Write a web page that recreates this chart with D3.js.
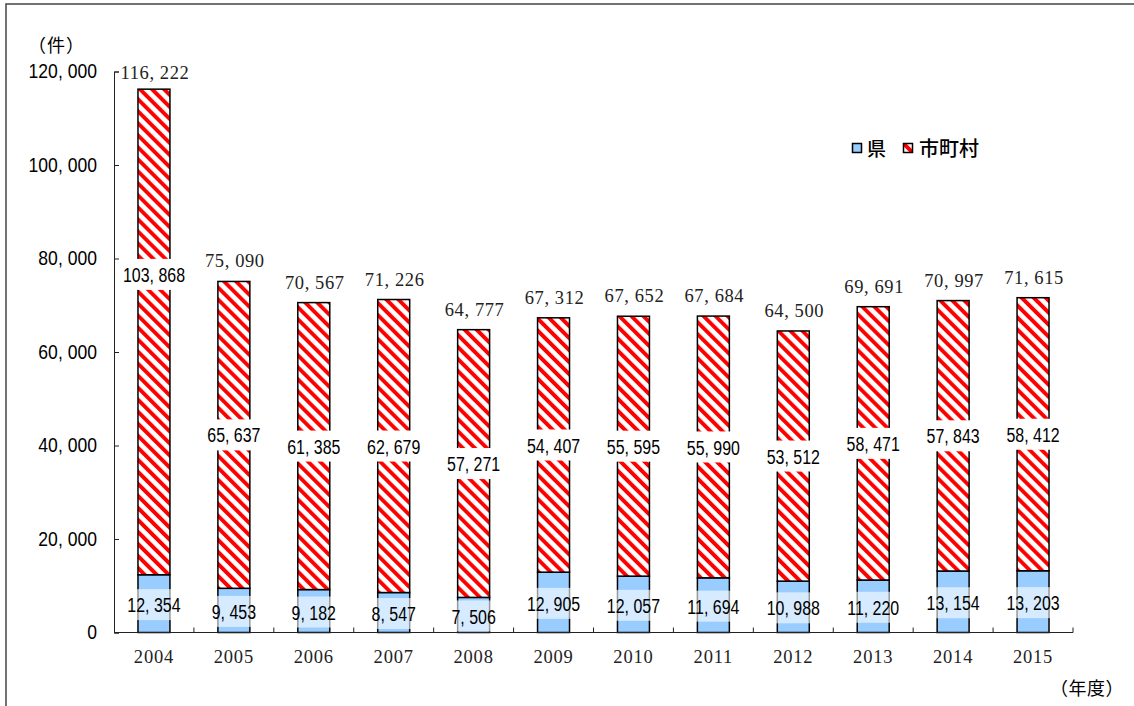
<!DOCTYPE html>
<html><head><meta charset="utf-8">
<script src="https://cdn.jsdelivr.net/npm/d3@7"></script>
<style>body{margin:0;background:#fff}svg{display:block}</style>
</head><body>
<svg id="c" width="1134" height="706"></svg>
<script>
const years = ["2004","2005","2006","2007","2008","2009","2010","2011","2012","2013","2014","2015"];
const prefValues = [12354,9453,9182,8547,7506,12905,12057,11694,10988,11220,13154,13203];
const muniValues = [103868,65637,61385,62679,57271,54407,55595,55990,53512,58471,57843,58412];
const totalValues = [116222,75090,70567,71226,64777,67312,67652,67684,64500,69691,70997,71615];
const yTicks = [0,20000,40000,60000,80000,100000,120000];
const seriesNames = ["県","市町村"];

const fmt = v => d3.format(",")(v).replace(/,/g, ", ");
const svg = d3.select("#c");
const m = {left:114, right:1073, top:71.5, bottom:632.5};

const defs = svg.append("defs");
const pat = defs.append("pattern").attr("id","stripe").attr("patternUnits","userSpaceOnUse")
  .attr("width",8.5).attr("height",10).attr("patternTransform","rotate(-45)");
pat.append("rect").attr("width",8.5).attr("height",10).attr("fill","#fff");
pat.append("rect").attr("x",0).attr("width",3.9).attr("height",10).attr("fill","#ff0000");

// frame
svg.append("path").attr("d",`M6,706 L6,4 L1134,4`).attr("fill","none").attr("stroke","#444").attr("stroke-width",1.5);

const x = d3.scaleBand().domain(years).range([m.left,m.right]).paddingInner(0.6).paddingOuter(0.3);
const y = d3.scaleLinear().domain([0,120000]).range([m.bottom,m.top]);

const g = svg.append("g");
const bw = x.bandwidth();
g.selectAll(".pref").data(years).join("rect")
  .attr("x",d=>x(d)).attr("width",bw)
  .attr("y",(d,i)=>y(prefValues[i])).attr("height",(d,i)=>y(0)-y(prefValues[i]))
  .attr("fill","#99ccff").attr("stroke","#000").attr("stroke-width",1.5);
g.selectAll(".muni").data(years).join("rect")
  .attr("x",d=>x(d)).attr("width",bw)
  .attr("y",(d,i)=>y(prefValues[i]+muniValues[i])).attr("height",(d,i)=>y(prefValues[i])-y(prefValues[i]+muniValues[i]))
  .attr("fill","url(#stripe)").attr("stroke","#000").attr("stroke-width",1.5);

// axes
const yAxis = d3.axisLeft(y).tickValues(yTicks).tickSize(-5).tickPadding(17).tickFormat(fmt);
const ya = svg.append("g").attr("transform",`translate(${m.left},0)`).call(yAxis);
ya.select(".domain").attr("stroke","#222");
ya.selectAll(".tick line").attr("stroke","#222");
ya.selectAll("text").attr("font-family","'Liberation Sans',Arial,sans-serif").attr("font-size",19.5).attr("fill","#000")
  .attr("transform","scale(0.9,1)").attr("x",-19);

const xa = svg.append("g").attr("transform",`translate(0,${m.bottom})`);
xa.append("line").attr("x1",m.left).attr("x2",m.right).attr("stroke","#222");
const bounds = d3.range(1, years.length+1).map(i => m.left + i*(m.right-m.left)/years.length);
xa.selectAll(".t").data(bounds).join("line").attr("x1",d=>d).attr("x2",d=>d).attr("y1",0).attr("y2",-5).attr("stroke","#222");
xa.selectAll(".yl").data(years).join("text")
  .attr("x",d=>x(d)+bw/2).attr("y",30).attr("text-anchor","middle")
  .attr("font-family","'Liberation Serif','Times New Roman',serif").attr("font-size",18.5).attr("letter-spacing",0.8)
  .attr("fill","#222").text(d=>d);

// total labels
g.selectAll(".tot").data(years).join("text")
  .attr("x",d=>x(d)+bw/2+1).attr("y",(d,i)=>Math.max(y(totalValues[i])-14, 79))
  .attr("text-anchor","middle")
  .attr("font-family","'Liberation Serif','Times New Roman',serif").attr("font-size",18.5).attr("letter-spacing",0.6)
  .attr("fill","#222").text((d,i)=>fmt(totalValues[i]));

// inner labels
const sx = 0.76;
function innerLabel(cx, cy, txt, fill, op){
  const lg = g.append("g").attr("transform",`translate(${cx},${cy})`);
  const t = lg.append("text").attr("x",0).attr("y",0).attr("dy","0.36em").attr("text-anchor","middle")
    .attr("font-family","'Liberation Sans',Arial,sans-serif").attr("font-size",21)
    .attr("transform",`scale(${sx},1)`).attr("fill","#000").text(txt);
  const bb = t.node().getBBox();
  const w = Math.max(bb.width*sx+6, bw+2);
  lg.insert("rect","text").attr("x",-w/2).attr("y",-15.5).attr("width",w).attr("height",31)
    .attr("fill",fill).attr("fill-opacity",op);
}
years.forEach((d,i)=>{
  const cx = x(d)+bw/2;
  innerLabel(cx, (y(0)+y(prefValues[i]))/2+1, fmt(prefValues[i]), "#fff", 0.6);
  let cy = (y(prefValues[i])+y(prefValues[i]+muniValues[i]))/2;
  if (i===0) cy = y(76600);
  innerLabel(cx, cy, fmt(muniValues[i]), "#fff", 1);
});

// legend
const lg = svg.append("g");
lg.append("rect").attr("x",852.5).attr("y",143.5).attr("width",9).attr("height",9).attr("fill","#99ccff").attr("stroke","#000").attr("stroke-width",1.5);
lg.append("text").attr("x",867).attr("y",156).attr("font-family","'Noto Sans CJK JP',sans-serif").attr("font-size",19).attr("font-weight",500).text(seriesNames[0]);
lg.append("rect").attr("x",903.5).attr("y",143.5).attr("width",9).attr("height",9).attr("fill","url(#stripe)").attr("stroke","#000").attr("stroke-width",1.5);
lg.append("text").attr("x",919).attr("y",156).attr("font-family","'Noto Sans CJK JP',sans-serif").attr("font-size",20).attr("font-weight",500).text(seriesNames[1]);

// unit labels
svg.append("text").attr("x",28).attr("y",52).attr("font-family","'Noto Sans CJK JP',sans-serif").attr("font-size",18).attr("letter-spacing",1).text("（件）");
svg.append("text").attr("x",1050).attr("y",695).attr("font-family","'Noto Sans CJK JP',sans-serif").attr("font-size",18).attr("letter-spacing",0.5).text("（年度）");
</script>
</body></html>
